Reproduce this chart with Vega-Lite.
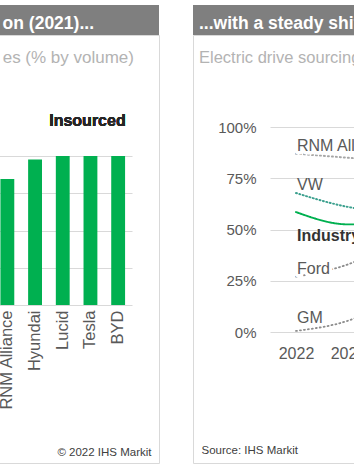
{
  "$schema": "https://vega.github.io/schema/vega-lite/v6.json",
  "padding": {"left": -2, "top": 5, "right": 0, "bottom": 0},
  "bounds": "flush",
  "columns": 2,
  "spacing": {"row": 0, "column": 34},
  "config": {
    "font": "Liberation Sans",
    "view": {"stroke": null},
    "axis": {"labelFont": "Liberation Sans", "titleFont": "Liberation Sans"},
    "title": {"font": "Liberation Sans"},
    "text": {"font": "Liberation Sans"}
  },
  "concat": [
    {
      "width": 160,
      "height": 30,
      "data": {"values": [{"h": 1}]},
      "mark": {"type": "rect", "color": "#7f7f7f"},
      "encoding": {},
      "view": {"fill": "#7f7f7f", "stroke": null},
      "title": {"text": "on (2021)...", "anchor": "end", "frame": "group", "offset": -41, "dx": -65, "baseline": "alphabetic", "color": "#ffffff", "fontSize": 17.5, "fontWeight": "bold"}
    },
    {
      "width": 560,
      "height": 30,
      "data": {"values": [{"h": 1}]},
      "mark": {"type": "rect", "color": "#7f7f7f"},
      "encoding": {},
      "view": {"fill": "#7f7f7f", "stroke": null},
      "title": {"text": "...with a steady shift towards outsourcing", "anchor": "start", "frame": "group", "offset": -41, "dx": 6, "baseline": "alphabetic", "color": "#ffffff", "fontSize": 17.5, "fontWeight": "bold"}
    },
    {
      "width": 160,
      "height": 428,
      "view": {"stroke": "#d9d9d9", "fill": null},
      "title": {"text": "es (% by volume)", "anchor": "end", "frame": "group", "offset": -44.5, "dx": -25, "baseline": "alphabetic", "color": "#b3b3b3", "fontSize": 17, "fontWeight": "normal"},
      "data": {"values": [
        {"oem": "RNM Alliance", "share": 84.6},
        {"oem": "Hyundai", "share": 97.7},
        {"oem": "Lucid", "share": 100},
        {"oem": "Tesla", "share": 100},
        {"oem": "BYD", "share": 100}
      ]},
      "layer": [
        {
          "mark": {"type": "bar", "color": "#00b050"},
          "encoding": {
            "x": {"field": "oem", "type": "nominal", "sort": null,
              "scale": {"range": [-5.5, 133], "paddingInner": 0.5, "paddingOuter": 0.25},
              "axis": {"offset": -158, "labelAngle": -90, "labelAlign": "right", "labelBaseline": "middle", "labelPadding": 5, "labelFontSize": 16.5, "labelColor": "#595959", "labelOverlap": false, "labelLimit": 0, "domain": false, "ticks": false, "grid": false,
                "title": "© 2022 IHS Markit", "titleX": 152, "titleY": 150, "titleAlign": "right", "titleBaseline": "alphabetic", "titleFontSize": 11.5, "titleFontWeight": "normal", "titleColor": "#404040"}},
            "y": {"field": "share", "type": "quantitative",
              "scale": {"domain": [0, 100], "range": [270, 121], "nice": false},
              "axis": {"values": [0, 25, 50, 75, 100], "labels": false, "ticks": false, "domain": false, "grid": true, "gridColor": "#d9d9d9", "title": null}}
          }
        },
        {
          "mark": {"type": "text", "text": "Insourced", "fontSize": 16, "fontWeight": "bold", "color": "#262626", "baseline": "alphabetic", "align": "center", "dx": -3},
          "encoding": {
            "x": {"datum": "Tesla", "type": "nominal"},
            "y": {"datum": 120, "type": "quantitative"}
          }
        }
      ]
    },
    {
      "width": 560,
      "height": 428,
      "view": {"stroke": "#d9d9d9", "fill": null},
      "title": {"text": "Electric drive sourcing by OEM (% insourced)", "anchor": "start", "frame": "group", "offset": -44, "dx": 6, "baseline": "alphabetic", "color": "#b3b3b3", "fontSize": 16.5, "fontWeight": "normal"},
      "data": {"values": [
        {"series": "RNM Alliance", "year": 2022, "value": 87},
        {"series": "RNM Alliance", "year": 2023, "value": 85},
        {"series": "RNM Alliance", "year": 2024, "value": 83},
        {"series": "RNM Alliance", "year": 2025, "value": 80},
        {"series": "RNM Alliance", "year": 2026, "value": 78},
        {"series": "RNM Alliance", "year": 2027, "value": 76},
        {"series": "RNM Alliance", "year": 2028, "value": 75},
        {"series": "RNM Alliance", "year": 2029, "value": 74},
        {"series": "RNM Alliance", "year": 2030, "value": 73},
        {"series": "VW", "year": 2022, "value": 67.8},
        {"series": "VW", "year": 2023, "value": 61},
        {"series": "VW", "year": 2024, "value": 58},
        {"series": "VW", "year": 2025, "value": 55},
        {"series": "VW", "year": 2026, "value": 53},
        {"series": "VW", "year": 2027, "value": 51},
        {"series": "VW", "year": 2028, "value": 50},
        {"series": "VW", "year": 2029, "value": 49},
        {"series": "VW", "year": 2030, "value": 48},
        {"series": "Industry", "year": 2022, "value": 58.5},
        {"series": "Industry", "year": 2023, "value": 52.5},
        {"series": "Industry", "year": 2024, "value": 53},
        {"series": "Industry", "year": 2025, "value": 52},
        {"series": "Industry", "year": 2026, "value": 51},
        {"series": "Industry", "year": 2027, "value": 50},
        {"series": "Industry", "year": 2028, "value": 49},
        {"series": "Industry", "year": 2029, "value": 48},
        {"series": "Industry", "year": 2030, "value": 47},
        {"series": "Ford", "year": 2022, "value": 27},
        {"series": "Ford", "year": 2023, "value": 33},
        {"series": "Ford", "year": 2024, "value": 45},
        {"series": "Ford", "year": 2025, "value": 50},
        {"series": "Ford", "year": 2026, "value": 52},
        {"series": "Ford", "year": 2027, "value": 53},
        {"series": "Ford", "year": 2028, "value": 54},
        {"series": "Ford", "year": 2029, "value": 55},
        {"series": "Ford", "year": 2030, "value": 55},
        {"series": "GM", "year": 2022, "value": 0.5},
        {"series": "GM", "year": 2023, "value": 5.5},
        {"series": "GM", "year": 2024, "value": 17},
        {"series": "GM", "year": 2025, "value": 28},
        {"series": "GM", "year": 2026, "value": 34},
        {"series": "GM", "year": 2027, "value": 38},
        {"series": "GM", "year": 2028, "value": 40},
        {"series": "GM", "year": 2029, "value": 41},
        {"series": "GM", "year": 2030, "value": 42}
      ]},
      "encoding": {
        "x": {"field": "year", "type": "ordinal",
          "scale": {"range": [77, 545], "padding": 0.5},
          "axis": {"offset": -131, "labelAngle": 0, "labelPadding": 13, "labelFontSize": 16, "labelColor": "#595959", "labelOverlap": false, "domain": false, "ticks": false, "grid": false,
            "title": "Source: IHS Markit", "titleX": 8, "titleY": 121, "titleAlign": "left", "titleBaseline": "alphabetic", "titleFontSize": 11.5, "titleFontWeight": "normal", "titleColor": "#404040"}},
        "y": {"field": "value", "type": "quantitative",
          "scale": {"domain": [0, 100], "range": [297, 92], "nice": false},
          "axis": {"values": [0, 25, 50, 75, 100], "labelExpr": "datum.value + '%'", "offset": -77, "labelPadding": 14, "labelFontSize": 15, "labelColor": "#595959", "domain": false, "ticks": false, "grid": true, "gridColor": "#d9d9d9", "title": null}}
      },
      "layer": [
        {
          "mark": {"type": "line", "interpolate": "monotone", "strokeCap": "round"},
          "encoding": {
            "color": {"field": "series", "type": "nominal", "legend": null,
              "scale": {"domain": ["RNM Alliance", "VW", "Industry", "Ford", "GM"], "range": ["#a6a6a6", "#3ca08e", "#00b050", "#8c8c8c", "#8c8c8c"]}},
            "strokeDash": {"field": "series", "type": "nominal", "legend": null,
              "scale": {"domain": ["RNM Alliance", "VW", "Industry", "Ford", "GM"], "range": [[1, 3], [1, 2.5], [1, 0], [1, 3], [1, 3]]}},
            "strokeWidth": {"field": "series", "type": "nominal", "legend": null,
              "scale": {"domain": ["RNM Alliance", "VW", "Industry", "Ford", "GM"], "range": [2, 1.8, 3, 2, 2]}}
          }
        },
        {
          "transform": [{"filter": "datum.year == 2022 && (datum.series == 'RNM Alliance' || datum.series == 'Ford')"}],
          "mark": {"type": "text", "align": "left", "baseline": "alphabetic", "dx": 1, "dy": -3, "fontSize": 16, "color": "#ffffff", "stroke": "#ffffff", "strokeWidth": 7, "strokeJoin": "round"},
          "encoding": {"text": {"field": "series"}}
        },
        {
          "transform": [{"filter": "datum.year == 2022 && (datum.series == 'RNM Alliance' || datum.series == 'Ford' || datum.series == 'VW')"}],
          "mark": {"type": "text", "align": "left", "baseline": "alphabetic", "dx": 1, "dy": -3, "fontSize": 16, "color": "#595959"},
          "encoding": {"text": {"field": "series"}}
        },
        {
          "transform": [{"filter": "datum.year == 2022 && datum.series == 'GM'"}],
          "mark": {"type": "text", "align": "left", "baseline": "alphabetic", "dx": 1, "dy": -8, "fontSize": 16, "color": "#595959"},
          "encoding": {"text": {"field": "series"}}
        },
        {
          "transform": [{"filter": "datum.year == 2022 && datum.series == 'Industry'"}],
          "mark": {"type": "text", "align": "left", "baseline": "alphabetic", "dx": 1, "dy": 28.5, "fontSize": 16, "fontWeight": "bold", "color": "#333333"},
          "encoding": {"text": {"field": "series"}}
        }
      ]
    }
  ]
}
